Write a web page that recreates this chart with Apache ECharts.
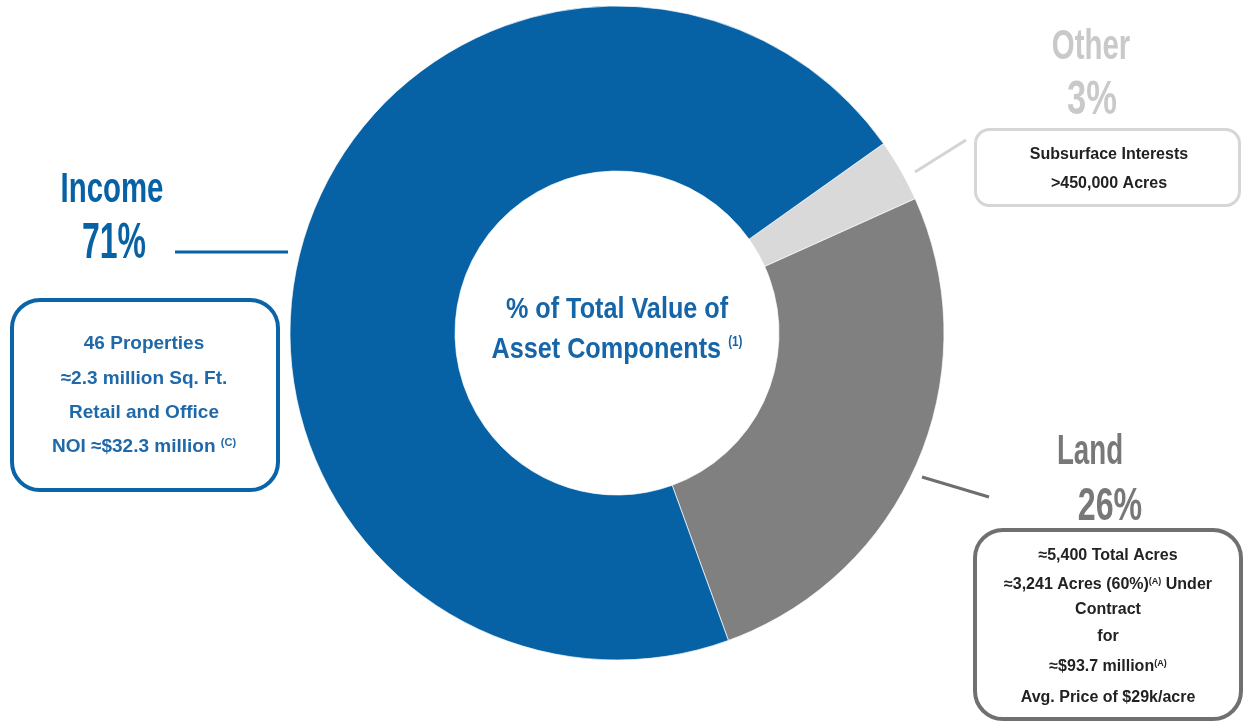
<!DOCTYPE html>
<html>
<head>
<meta charset="utf-8">
<script src="https://cdn.jsdelivr.net/npm/echarts@6/dist/echarts.min.js"></script>
<style>html,body{margin:0;padding:0;background:#fff;}#c{width:1244px;height:722px;}</style>
</head>
<body>
<div id="c"></div>
<script>
// ---- data ----
const categories = ['Other', 'Land', 'Income'];
const values = [3.1, 26.2, 70.7];          // shares read from the arcs
const pctLabels = ['3%', '26%', '71%'];
const centerTitle = ['% of Total Value of', 'Asset Components {sup|(1)}'];
const incomeDetails = ['46 Properties', '\u22482.3 million Sq. Ft.', 'Retail and Office', 'NOI \u2248$32.3 million {sup|(C)}'];
const otherDetails = ['Subsurface Interests', '>450,000 Acres'];
const landDetails = ['\u22485,400 Total Acres', '\u22483,241 Acres (60%){sup|(A)} Under', 'Contract', 'for', '\u2248$93.7 million{sup|(A)}', 'Avg. Price of $29k/acre'];

// ---- styling ----
const FAM = "'Liberation Sans', Arial, sans-serif";
const BLUE = '#0762a5';
const sliceColors = ['#d9d9d9', '#808080', BLUE];

function txt(x, y, text, size, color, scaleX, supSize) {
  return {
    type: 'text', x: x, y: y, scaleX: scaleX || 1, silent: true,
    style: {
      text: text, x: 0, y: 0, align: 'center', verticalAlign: 'middle',
      fontFamily: FAM, fontWeight: 'bold', fontSize: size, fill: color,
      rich: { sup: { fontFamily: FAM, fontWeight: 'bold', fontSize: supSize || 10, fill: color, verticalAlign: 'top', padding: [0, 0, Math.round(size * 0.45), 0] } }
    }
  };
}

const chart = echarts.init(document.getElementById('c'), null, { renderer: 'canvas' });

const graphics = [];
// Income annotation
graphics.push(txt(112, 190, categories[2], 42, BLUE, 0.7));
graphics.push(txt(114, 244, pctLabels[2], 50, BLUE, 0.64));
graphics.push({ type: 'line', silent: true, shape: { x1: 175, y1: 252, x2: 288, y2: 252 }, style: { stroke: BLUE, lineWidth: 3 } });
graphics.push({ type: 'rect', silent: true, shape: { x: 12, y: 300, width: 266, height: 190, r: 28 }, style: { fill: 'rgba(0,0,0,0)', stroke: '#0a64a7', lineWidth: 4 } });
const incY = [344, 379, 413, 447];
incomeDetails.forEach((t, i) => graphics.push(txt(144, incY[i], t, 19, '#1f69a9', 1, 11)));

// Other annotation
graphics.push(txt(1091, 47, categories[0], 42, '#c9c9c9', 0.7));
graphics.push(txt(1092, 101, pctLabels[0], 48, '#c9c9c9', 0.72));
graphics.push({ type: 'line', silent: true, shape: { x1: 915, y1: 172, x2: 966, y2: 140 }, style: { stroke: '#d4d4d4', lineWidth: 3 } });
graphics.push({ type: 'rect', silent: true, shape: { x: 975.5, y: 129.5, width: 264, height: 76, r: 14 }, style: { fill: 'rgba(0,0,0,0)', stroke: '#d6d6d6', lineWidth: 3 } });
const othY = [155, 184];
otherDetails.forEach((t, i) => graphics.push(txt(1109, othY[i], t, 16, '#222', 1)));

// Land annotation
graphics.push(txt(1090, 452, categories[1], 42, '#787878', 0.66));
graphics.push(txt(1110, 507, pctLabels[1], 46, '#787878', 0.7));
graphics.push({ type: 'line', silent: true, shape: { x1: 922, y1: 477, x2: 989, y2: 497 }, style: { stroke: '#6e6e6e', lineWidth: 3 } });
graphics.push({ type: 'rect', silent: true, shape: { x: 975, y: 530, width: 266, height: 189, r: 28 }, style: { fill: 'rgba(0,0,0,0)', stroke: '#707070', lineWidth: 4 } });
const landY = [556, 585, 610, 637, 667, 698];
landDetails.forEach((t, i) => graphics.push(txt(1108, landY[i], t, 16, '#222', 1, 9)));

// Center title
graphics.push(txt(617, 310, centerTitle[0], 30, '#1565a8', 0.84));
graphics.push(txt(617, 350, centerTitle[1], 30, '#1565a8', 0.84, 14));

chart.setOption({
  animation: false,
  backgroundColor: '#ffffff',
  series: [{
    type: 'pie',
    center: [617, 333],
    radius: [162, 327],
    startAngle: 35.4,
    clockwise: true,
    silent: true,
    label: { show: false },
    labelLine: { show: false },
    itemStyle: { borderColor: 'rgba(255,255,255,0.7)', borderWidth: 1 },
    data: categories.map((c, i) => ({ name: c, value: values[i], itemStyle: { color: sliceColors[i] } }))
  }],
  graphic: { elements: graphics }
});
</script>
</body>
</html>
